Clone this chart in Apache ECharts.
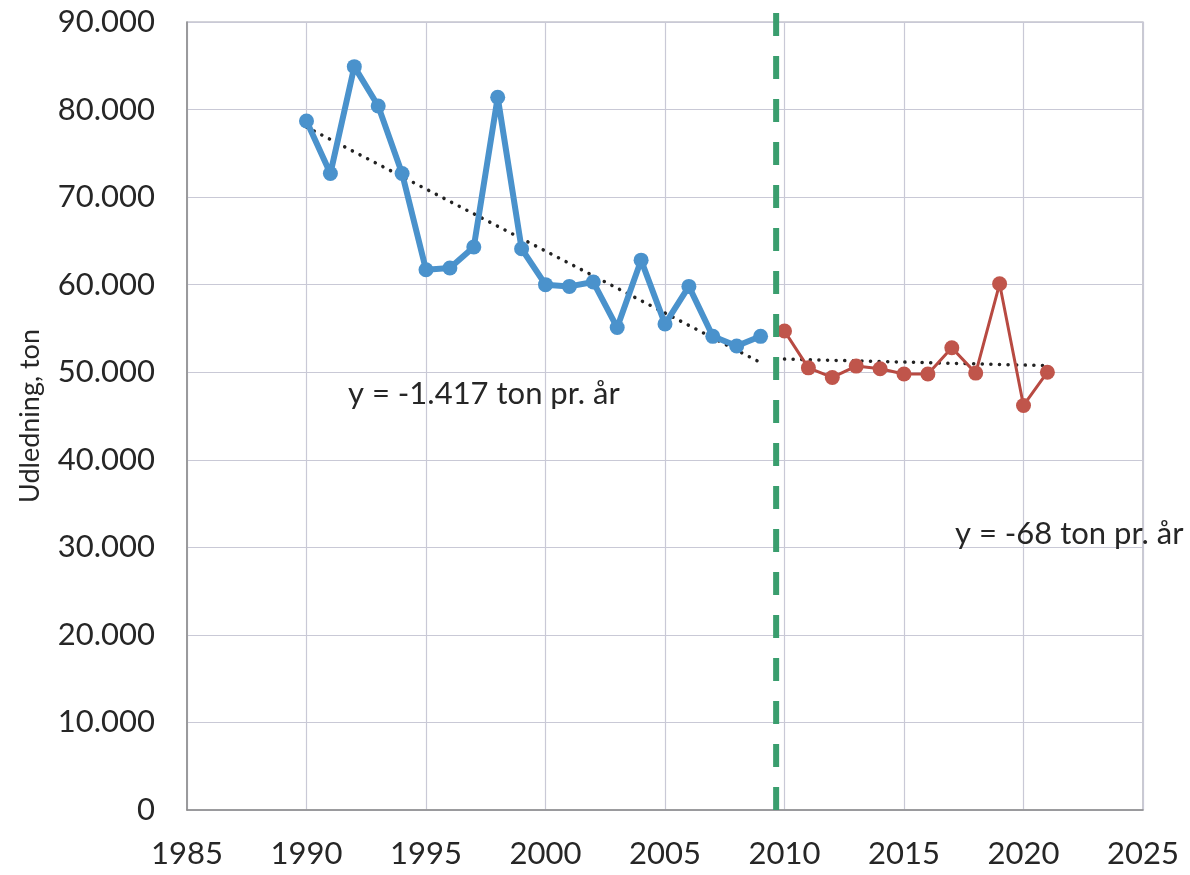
<!DOCTYPE html>
<html>
<head>
<meta charset="utf-8">
<script src="https://cdn.jsdelivr.net/npm/echarts@6/dist/echarts.min.js"></script>
<style>html,body{margin:0;padding:0;background:#fff}#c{width:1190px;height:875px}</style>
</head>
<body>
<div id="c"></div>
<script>
const yearsA = [1990,1991,1992,1993,1994,1995,1996,1997,1998,1999,2000,2001,2002,2003,2004,2005,2006,2007,2008,2009];
const valuesA = [78700,72700,84900,80400,72700,61700,61900,64300,81400,64100,60000,59800,60300,55100,62800,55500,59800,54100,53000,54100];
const yearsB = [2010,2011,2012,2013,2014,2015,2016,2017,2018,2019,2020,2021];
const valuesB = [54700,50500,49400,50700,50400,49800,49800,52800,49900,60100,46200,50000];
const trendA = [[1990,78000],[2009,51100]];
const trendB = [[2010,51500],[2021,50750]];
const dividerX = 2009.65;
const divider = [[dividerX,0],[dividerX,91200]];
const yTicks = [0,10000,20000,30000,40000,50000,60000,70000,80000,90000];
const xTicks = [1985,1990,1995,2000,2005,2010,2015,2020,2025];
const labelA = 'y = -1.417 ton pr. år';
const labelB = 'y = -68 ton pr. år';
const yName = 'Udledning, ton';

const font = 'Lato, "Open Sans", sans-serif';
const fmt = v => v === 0 ? '0' : String(v).replace(/\B(?=(\d{3})+(?!\d))/g, '.');
const pair = (xs, ys) => xs.map((x, i) => [x, ys[i]]);

const chart = echarts.init(document.getElementById('c'), null, {renderer: 'canvas'});
chart.setOption({
  backgroundColor: '#ffffff',
  animation: false,
  grid: {left: 187, right: 47, top: 22, bottom: 65},
  xAxis: {
    type: 'value', min: xTicks[0], max: xTicks[xTicks.length-1], interval: 5,
    axisLine: {show: true, lineStyle: {color: '#8a8a8a', width: 1.5}},
    axisTick: {show: false},
    axisLabel: {color: '#262626', fontFamily: font, fontSize: 31, margin: 28, formatter: v => String(v)},
    splitLine: {show: true, lineStyle: {color: '#c9c9d6', width: 1.2}}
  },
  yAxis: {
    type: 'value', min: yTicks[0], max: yTicks[yTicks.length-1], interval: 10000,
    name: yName, nameLocation: 'middle', nameGap: 143, nameRotate: 90,
    nameTextStyle: {color: '#262626', fontFamily: font, fontSize: 27, padding: [0, 0, 0, 0]},
    axisLine: {show: true, lineStyle: {color: '#8a8a8a', width: 1.5}},
    axisTick: {show: false},
    axisLabel: {color: '#262626', fontFamily: font, fontSize: 31, margin: 32, formatter: fmt},
    splitLine: {show: true, lineStyle: {color: '#c9c9d6', width: 1.2}}
  },
  graphic: [
    {type: 'rect', shape: {x: 187, y: 22, width: 956, height: 788}, style: {fill: 'none', stroke: '#a8a8b4', lineWidth: 1.2}, silent: true, z: 0},
    {type: 'text', left: 348, top: 378, style: {text: labelA, fill: '#262626', font: '31px ' + font}, z: 10},
    {type: 'text', left: 955, top: 518, style: {text: labelB, fill: '#262626', font: '31px ' + font}, z: 10}
  ],
  series: [
    {type: 'line', data: trendA, showSymbol: false, symbol: 'none', z: 3,
     lineStyle: {color: '#222', width: 3.5, type: [0.1, 8.5], cap: 'round'}},
    {type: 'line', data: trendB, showSymbol: false, symbol: 'none', z: 3,
     lineStyle: {color: '#222', width: 3.5, type: [0.1, 8.5], cap: 'round'}},
    {type: 'line', data: pair(yearsA, valuesA), symbol: 'circle', symbolSize: 15, z: 5,
     lineStyle: {color: '#4a92cc', width: 6}, itemStyle: {color: '#4a92cc'}},
    {type: 'line', data: pair(yearsB, valuesB), symbol: 'circle', symbolSize: 15, z: 5,
     lineStyle: {color: '#b84a42', width: 3}, itemStyle: {color: '#c0554b'}},
    {type: 'line', data: divider, symbol: 'none', clip: false, z: 6,
     lineStyle: {color: '#3a9e6e', width: 6, type: [23, 20]}}
  ]
});
</script>
</body>
</html>
